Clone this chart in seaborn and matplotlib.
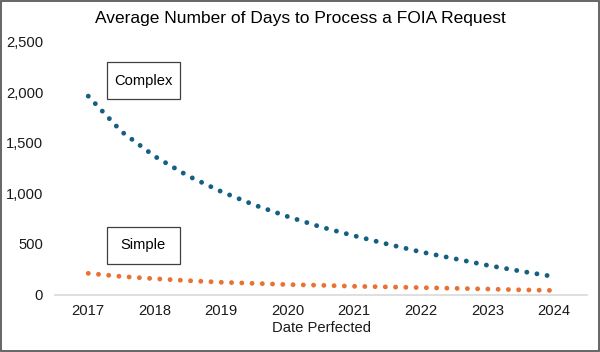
import matplotlib as mpl

mpl.use('Agg')
import pandas as pd
import matplotlib.pyplot as plt
import seaborn as sns
from matplotlib.patches import Rectangle

# values (half-year steps)
dates = [2017.0, 2017.5, 2018.0, 2018.5, 2019.0, 2019.5, 2020.0, 2020.5,
         2021.0, 2021.5, 2022.0, 2022.5, 2023.0, 2023.5, 2024.0]
complex_days = [1960, 1610, 1365, 1172, 1017, 884, 770, 667,
                580, 498, 421, 355, 289, 231, 177]
simple_days = [209, 178, 156, 137, 121, 110, 98, 91,
               81, 75, 68, 61, 54, 46, 40]
year_ticks = [2017, 2018, 2019, 2020, 2021, 2022, 2023, 2024]
y_ticks = [0, 500, 1000, 1500, 2000, 2500]

df = pd.DataFrame({
    'date': dates * 2,
    'days': complex_days + simple_days,
    'type': ['Complex'] * len(dates) + ['Simple'] * len(dates),
})
palette = {'Complex': '#156082', 'Simple': '#E97132'}

sns.set_style('white')
plt.rcParams['font.family'] = ['Liberation Sans', 'DejaVu Sans']

fig = plt.figure(figsize=(6, 3.52), dpi=100)
ax = fig.add_axes([55 / 600, 1 - 294.5 / 352, 532 / 600, 253 / 352])

sns.lineplot(data=df, x='date', y='days', hue='type', palette=palette,
             lw=3.5, legend=False, ax=ax)
for line in ax.get_lines():
    line.set_linestyle((0, (0.01, 2.1)))
    line.set_dash_capstyle('round')

ax.set_xlim(2016.5, 2024.5)
ax.set_ylim(0, 2500)
ax.set_xticks(year_ticks)
ax.set_yticks(y_ticks)
ax.set_yticklabels(['{:,}'.format(v) for v in y_ticks])
ax.tick_params(axis='both', length=0, labelsize=10.6, colors='#1a1a1a')
ax.tick_params(axis='y', pad=8.5)
ax.tick_params(axis='x', pad=6.5)
ax.set_xlabel('Date Perfected', fontsize=10.6, labelpad=2.5, color='#1a1a1a')
ax.set_ylabel('')

for s in ['top', 'right', 'left']:
    ax.spines[s].set_visible(False)
ax.spines['bottom'].set_color('#d9d9d9')
ax.spines['bottom'].set_linewidth(1.2)

fig.text(0.5, 1 - 18 / 352, 'Average Number of Days to Process a FOIA Request',
         ha='center', va='center', fontsize=12.5, color='#000000')

# label boxes
for label, top in [('Complex', 62), ('Simple', 227)]:
    fig.add_artist(Rectangle((107 / 600, 1 - (top + 36.5) / 352), 72.5 / 600,
                             36.5 / 352, transform=fig.transFigure,
                             fill=False, ec='#404040', lw=0.9))
    fig.text(143 / 600, 1 - (top + 18.5) / 352, label, ha='center',
             va='center', fontsize=10.6, color='#000000')

# outer frame
fig.add_artist(Rectangle((0.6 / 600, 0.6 / 352), 598.8 / 600, 350.8 / 352,
                         transform=fig.transFigure, fill=False,
                         ec='#595959', lw=1.3))

plt.savefig('out.png', dpi=100)
